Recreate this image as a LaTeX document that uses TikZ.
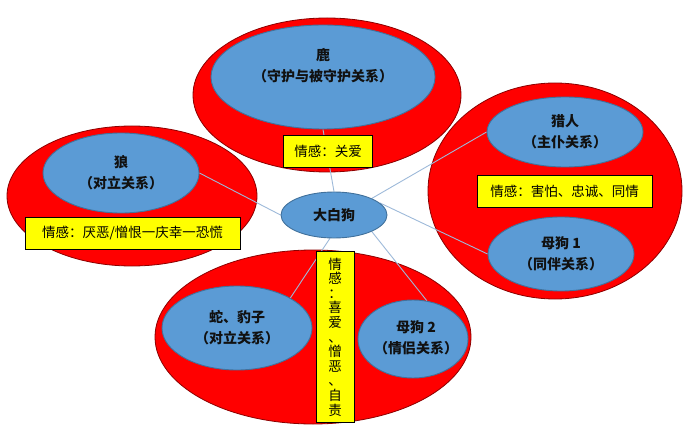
\documentclass[tikz,border=0pt]{standalone}
\usepackage{fontspec}
\setmainfont{Noto Sans CJK SC}
\usetikzlibrary{shapes.geometric}
\definecolor{ovred}{HTML}{FF0000}
\definecolor{ovredline}{HTML}{8B0000}
\definecolor{ovblue}{HTML}{5B9BD5}
\definecolor{ovblueline}{HTML}{41719C}
\definecolor{linkblue}{HTML}{9DB9D9}
\definecolor{boxyellow}{HTML}{FFFF00}
\definecolor{txtdark}{HTML}{111111}
\pgfdeclarelayer{bg}
\pgfdeclarelayer{mid}
\pgfsetlayers{bg,mid,main}
\begin{document}
\begin{tikzpicture}[x=1pt,y=-1pt,
  redov/.style={ellipse, draw=ovredline, fill=ovred, line width=0.8pt, inner sep=0pt},
  blueov/.style={ellipse, draw=ovblueline, fill=ovblue, line width=0.9pt, inner sep=0pt,
    align=center, text=txtdark, font=\bfseries\fontsize{14}{21}\selectfont},
  plaintxt/.style={align=center, text=txtdark, inner sep=0pt, font=\bfseries\fontsize{14}{21}\selectfont},
  ybox/.style={rectangle, draw=black, fill=boxyellow, line width=0.8pt, inner sep=0pt,
    font=\fontsize{13.5}{14.6}\selectfont, align=center},
  link/.style={draw=linkblue, line width=0.9pt}]
\useasboundingbox (0,0) rectangle (692,438);

\begin{pgfonlayer}{bg}
\node[redov, minimum width=268pt, minimum height=154pt] (rtop) at (327,95) {};
\node[redov, minimum width=250pt, minimum height=140pt] (rleft) at (132,196) {};
\node[redov, minimum width=254pt, minimum height=216pt] (rright) at (555,191) {};
\node[redov, minimum width=316pt, minimum height=174pt] (rbottom) at (313,337) {};
\end{pgfonlayer}

\node[blueov, minimum width=224pt, minimum height=104pt] (deer) at (323,77) {};
\node[plaintxt] (deertxt) at (323,66) {鹿\\（守护与被守护关系）};
\node[blueov, minimum width=156pt, minimum height=80pt] (wolf) at (121,173) {狼\\（对立关系）};
\node[blueov, minimum width=156pt, minimum height=70pt] (hunter) at (565,132) {猎人\\（主仆关系）};
\node[blueov, minimum width=146pt, minimum height=74pt] (dogone) at (561,254) {母狗 1\\（同伴关系）};
\node[blueov, minimum width=150pt, minimum height=84pt] (snake) at (237,328) {蛇、豹子\\（对立关系）};
\node[blueov, minimum width=110pt, minimum height=78pt] (dogtwo) at (413,339) {};
\node[plaintxt] (dogtwotxt) at (416,338) {母狗 2\\（情侣关系）};
\node[blueov, minimum width=106pt, minimum height=46pt] (center) at (334,215) {大白狗};

\begin{pgfonlayer}{mid}
\draw[link] (center.north) -- (deer.south);
\draw[link] (center.west) -- (wolf.east);
\draw[link] (center.north east) -- (hunter.west);
\draw[link] (center.15) -- (dogone.west);
\draw[link] (center.260) -- (snake.north east);
\draw[link] (center.south east) -- (dogtwo.70);
\end{pgfonlayer}

\node[ybox, minimum width=89pt, minimum height=32pt] (boxtop) at (328,151) {情感：关爱};
\node[ybox, minimum width=215pt, minimum height=32pt] (boxleft) at (132.5,233) {情感：厌恶/憎恨一庆幸一恐慌};
\node[ybox, minimum width=175pt, minimum height=32pt] (boxright) at (564.5,191) {情感：害怕、忠诚、同情};
\node[ybox, minimum width=38pt, minimum height=171pt] (boxbottom) at (335,337) {情\\感\\：\\喜\\爱\\、\\憎\\恶\\、\\自\\责};
\end{tikzpicture}
\end{document}
